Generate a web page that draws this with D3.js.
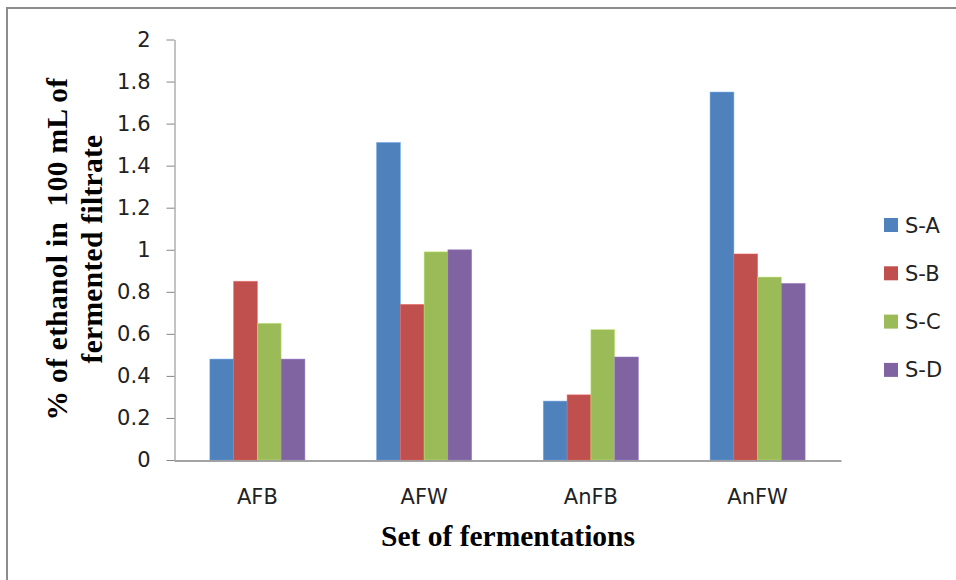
<!DOCTYPE html>
<html>
<head>
<meta charset="utf-8">
<script src="https://cdn.jsdelivr.net/npm/d3@7"></script>
<style>
  html, body { margin: 0; padding: 0; background: #fff; }
  svg { display: block; }
</style>
</head>
<body>
<svg id="chart" width="956" height="580"></svg>
<script>
const categories = ["AFB", "AFW", "AnFB", "AnFW"];
const seriesNames = ["S-A", "S-B", "S-C", "S-D"];
const sA = [0.48, 1.51, 0.28, 1.75];
const sB = [0.85, 0.74, 0.31, 0.98];
const sC = [0.65, 0.99, 0.62, 0.87];
const sD = [0.48, 1.00, 0.49, 0.84];
const seriesValues = [sA, sB, sC, sD];
const colors = ["#4F81BD", "#C0504D", "#9BBB59", "#8064A2"];
const yTicks = [0, 0.2, 0.4, 0.6, 0.8, 1, 1.2, 1.4, 1.6, 1.8, 2];
const yTitle = ["% of ethanol in  100 mL of", "fermented filtrate"];
const xTitle = "Set of fermentations";

const svg = d3.select("#chart");
const tickFont = "DejaVu Sans, Verdana, sans-serif";
const titleFont = "Liberation Serif, Times New Roman, serif";
const tickSize = 21;

// outer border
svg.append("rect").attr("x", 7).attr("y", 8).attr("width", 1000).attr("height", 1000)
  .attr("fill", "none").attr("stroke", "#8c8c8c").attr("stroke-width", 2);

const x0 = d3.scaleBand().domain(categories).range([174, 841]).paddingInner(0.43).paddingOuter(0.215);
const x1 = d3.scaleBand().domain(seriesNames).range([0, x0.bandwidth()]);
const y = d3.scaleLinear().domain([0, 2]).range([460, 39.5]);

// bars
const data = seriesNames.map((s, i) => ({ name: s, color: colors[i], values: seriesValues[i] }));
const groups = svg.append("g");
data.forEach(s => {
  groups.selectAll(null).data(categories).enter().append("rect")
    .attr("x", c => x0(c) + x1(s.name))
    .attr("y", (c, j) => y(s.values[j]))
    .attr("width", x1.bandwidth())
    .attr("height", (c, j) => y(0) - y(s.values[j]))
    .attr("fill", s.color)
    .attr("stroke", d3.color(s.color).brighter(0.6))
    .attr("stroke-opacity", 0.6)
    .attr("stroke-width", 0.8);
});

// y axis
const yAxis = svg.append("g").attr("transform", "translate(174.5,0)")
  .call(d3.axisLeft(y).tickValues(yTicks).tickSize(8).tickPadding(16).tickFormat(d3.format("")).tickSizeOuter(0));
yAxis.select(".domain").attr("stroke", "#868686");
yAxis.selectAll(".tick line").attr("stroke", "#868686");
yAxis.selectAll("text").attr("font-family", tickFont).attr("font-size", tickSize).attr("fill", "#222");

// x axis
const xAxis = svg.append("g").attr("transform", "translate(0,460.5)")
  .call(d3.axisBottom(x0).tickSize(0).tickPadding(29).tickSizeOuter(0));
xAxis.select(".domain").attr("stroke", "#868686").attr("stroke-width", 1.5);
xAxis.selectAll("text").attr("font-family", tickFont).attr("font-size", tickSize).attr("fill", "#222");

// y title
const yt = svg.append("text").attr("transform", "translate(67,249) rotate(-90)")
  .attr("text-anchor", "middle").attr("font-family", titleFont).attr("font-weight", "bold")
  .attr("font-size", 29.5).attr("fill", "#000").attr("letter-spacing", 0.3);
yt.append("tspan").attr("x", 0).attr("y", 0).text(yTitle[0]).style("white-space", "pre");
yt.append("tspan").attr("x", 0).attr("y", 35).text(yTitle[1]);

// x title
svg.append("text").attr("x", 508).attr("y", 545.5).attr("text-anchor", "middle")
  .attr("font-family", titleFont).attr("font-weight", "bold").attr("font-size", 29.5).attr("fill", "#000")
  .text(xTitle);

// legend
const legend = svg.append("g");
data.forEach((s, i) => {
  const cy = 225 + i * 48.3;
  legend.append("rect").attr("x", 884).attr("y", cy - 7).attr("width", 14).attr("height", 14).attr("fill", s.color);
  legend.append("text").attr("x", 905).attr("y", cy).attr("dy", "0.36em")
    .attr("font-family", tickFont).attr("font-size", tickSize).attr("fill", "#222").text(s.name);
});
</script>
</body>
</html>
